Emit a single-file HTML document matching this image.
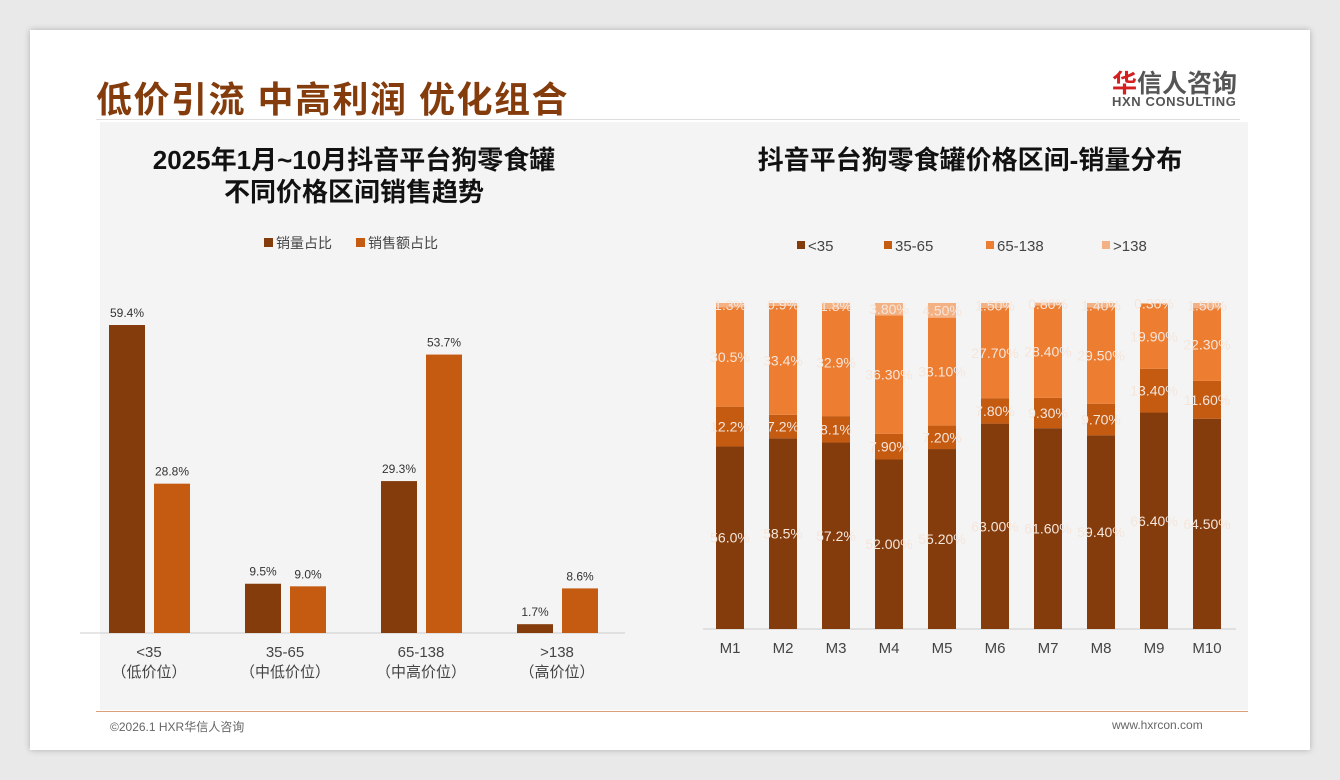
<!DOCTYPE html>
<html><head><meta charset="utf-8">
<style>
body{margin:0;width:1340px;height:780px;background:#e9e9e9;font-family:"Liberation Sans","Noto Sans CJK SC",sans-serif;overflow:hidden}
#card{position:absolute;left:30px;top:30px;width:1280px;height:720px;background:#fff;box-shadow:0 0 6px rgba(0,0,0,.25)}
#content{position:absolute;left:70px;top:92px;width:1148px;height:588px;background:#f4f4f4}
.t{position:absolute;white-space:nowrap}
</style></head><body>
<div id="card">
<div class="t" style="left:66px;top:41px;font-size:36px;font-weight:bold;color:#843c0c;letter-spacing:1.5px">低价引流 中高利润 优化组合</div>
<div class="t" style="left:1082px;top:34px;font-size:25px;font-weight:bold;color:#555"><span style="color:#d42020">华</span>信人咨询</div>
<div class="t" style="left:1082px;top:64px;font-size:13px;font-weight:bold;color:#555;letter-spacing:0.6px">HXN CONSULTING</div>
<div style="position:absolute;left:66px;top:89px;width:1144px;height:1px;background:#ddd"></div>
<div id="content"></div>
<div style="position:absolute;left:66px;top:681px;width:1152px;height:1px;background:#d9a07a"></div>
<div class="t" style="left:80px;top:688px;font-size:12px;color:#666">©2026.1 HXR华信人咨询</div>
<div class="t" style="left:1082px;top:688px;font-size:12px;color:#666">www.hxrcon.com</div>
</div>
<svg id="chart" width="1340" height="780" style="position:absolute;left:0;top:0"></svg>
<script>
const leftCats=["<35","35-65","65-138",">138"];
const leftSubs=["（低价位）","（中低价位）","（中高价位）","（高价位）"];
const volShare=[59.4,9.5,29.3,1.7];
const salesShare=[28.8,9.0,53.7,8.6];
const months=["M1","M2","M3","M4","M5","M6","M7","M8","M9","M10"];
const s1=[56.0,58.5,57.2,52.0,55.2,63.0,61.6,59.4,66.4,64.5];
const s2=[12.2,7.2,8.1,7.9,7.2,7.8,9.3,9.7,13.4,11.6];
const s3=[30.5,33.4,32.9,36.3,33.1,27.7,28.4,29.5,19.9,22.3];
const s4=[1.3,0.9,1.8,3.8,4.5,1.5,0.8,1.4,0.3,1.6];
const s1L=["56.0%","58.5%","57.2%","52.00%","55.20%","63.00%","61.60%","59.40%","66.40%","64.50%"];
const s2L=["12.2%","7.2%","8.1%","7.90%","7.20%","7.80%","9.30%","9.70%","13.40%","11.60%"];
const s3L=["30.5%","33.4%","32.9%","36.30%","33.10%","27.70%","28.40%","29.50%","19.90%","22.30%"];
const s4L=["1.3%","0.9%","1.8%","3.80%","4.50%","1.50%","0.80%","1.40%","0.30%","1.50%"];
const svg=document.getElementById('chart');
const NS='http://www.w3.org/2000/svg';
function mk(tag,attrs,txt){const e=document.createElementNS(NS,tag);for(const k in attrs)e.setAttribute(k,attrs[k]);if(txt!==undefined)e.textContent=txt;svg.appendChild(e);return e;}
let e;
e=mk('text',{x:354,y:169,'text-anchor':'middle','font-size':26,'font-weight':'bold',fill:'#111'},'2025年1月~10月抖音平台狗零食罐');

e=mk('text',{x:354,y:201,'text-anchor':'middle','font-size':26,'font-weight':'bold',fill:'#111'},'不同价格区间销售趋势');

e=mk('text',{x:970,y:169,'text-anchor':'middle','font-size':26,'font-weight':'bold',fill:'#111'},'抖音平台狗零食罐价格区间-销量分布');

const leg=[["销量占比","#843c0c",264],["销售额占比","#c55a11",356]];
leg.forEach(l=>{e=mk('rect',{x:l[2],y:238,width:9,height:9,fill:l[1]});
e=mk('text',{x:l[2]+12,y:248,'font-size':14,fill:'#444'},l[0]);});
const LB=633,LS=5.185,L0=149,LG=136;
const ly=v=>LB-v*LS;
e=mk('line',{x1:80,y1:LB,x2:625,y2:LB,stroke:'#ccc'});
leftCats.forEach((c,i)=>{const cx=L0+i*LG;
 e=mk('rect',{x:cx-40,y:ly(volShare[i]),width:36,height:volShare[i]*LS,fill:'#843c0c'});
 e=mk('rect',{x:cx+5,y:ly(salesShare[i]),width:36,height:salesShare[i]*LS,fill:'#c55a11'});
 e=mk('text',{x:cx-22,y:ly(volShare[i])-8,'text-anchor':'middle','font-size':12,fill:'#333'},volShare[i].toFixed(1)+'%');
 e=mk('text',{x:cx+23,y:ly(salesShare[i])-8,'text-anchor':'middle','font-size':12,fill:'#333'},salesShare[i].toFixed(1)+'%');
 e=mk('text',{x:cx,y:657,'text-anchor':'middle','font-size':15,fill:'#444'},c);
 e=mk('text',{x:cx,y:677,'text-anchor':'middle','font-size':15,fill:'#444'},leftSubs[i]);
});
const rleg=[["<35","#843c0c",797],["35-65","#c55a11",884],["65-138","#ed7d31",986],[">138","#f4b183",1102]];
rleg.forEach(l=>{e=mk('rect',{x:l[2],y:241,width:8,height:8,fill:l[1]});
e=mk('text',{x:l[2]+11,y:251,'font-size':15,fill:'#444'},l[0]);});
const RB=629,RS=3.26,R0=730,RG=53,BW=28;
e=mk('line',{x1:703,y1:RB,x2:1236,y2:RB,stroke:'#ccc'});
const series=[[s1,s1L,'#843c0c'],[s2,s2L,'#c55a11'],[s3,s3L,'#ed7d31'],[s4,s4L,'#f4b183']];
months.forEach((m,i)=>{const cx=R0+i*RG;let acc=0;
 series.forEach(s=>{const v=s[0][i];const y0=RB-acc*RS;const h=v*RS;
  e=mk('rect',{x:cx-BW/2,y:y0-h,width:BW,height:h,fill:s[2]});
  e=mk('text',{x:cx,y:y0-h/2+5,'text-anchor':'middle','font-size':14,fill:'#f5e6dc'},s[1][i]);
  acc+=v;});
 e=mk('text',{x:cx,y:653,'text-anchor':'middle','font-size':15,fill:'#444'},m);
});
</script>
</body></html>
